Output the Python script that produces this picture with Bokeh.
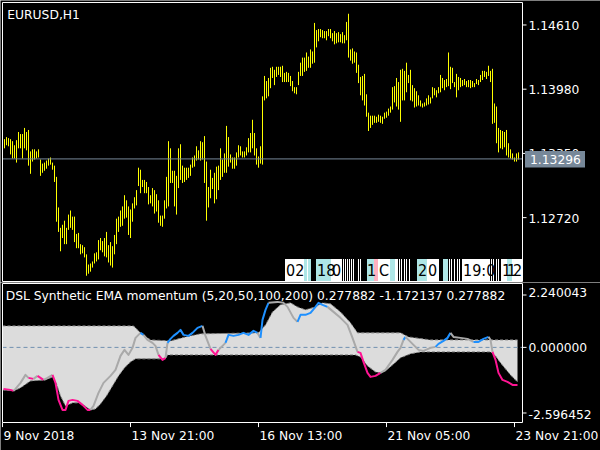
from bokeh.plotting import figure
from bokeh.layouts import column
from bokeh.models import Range1d
from bokeh.embed import file_html
from bokeh.resources import INLINE
from bokeh.core.properties import value

FONT = "DejaVu Sans"
TAG_FONT = "Liberation Sans Narrow, DejaVu Sans Condensed, DejaVu Sans"
FS = "12.3px"
BASE_FIX = -4.5   # moves the alphabetic baseline onto the wanted pixel row

# ---------------- data: EURUSD H1 bars ----------------
symbol = "EURUSD,H1"
high = [1.1349, 1.1351, 1.1350, 1.1349, 1.1347, 1.1343, 1.1348, 1.1356, 1.1354, 1.1354,
        1.1360, 1.1356, 1.1358, 1.1337, 1.1339, 1.1339, 1.1337, 1.1339, 1.1329, 1.1325,
        1.1326, 1.1328, 1.1330, 1.1331, 1.1326, 1.1323, 1.1312, 1.1282, 1.1262, 1.1265,
        1.1269, 1.1262, 1.1275, 1.1279, 1.1273, 1.1273, 1.1256, 1.1257, 1.1246, 1.1245,
        1.1243, 1.1236, 1.1226, 1.1227, 1.1229, 1.1237, 1.1238, 1.1250, 1.1252, 1.1249,
        1.1252, 1.1258, 1.1245, 1.1248, 1.1244, 1.1255, 1.1271, 1.1273, 1.1279, 1.1283,
        1.1294, 1.1289, 1.1283, 1.1280, 1.1286, 1.1292, 1.1299, 1.1321, 1.1319, 1.1309,
        1.1309, 1.1307, 1.1302, 1.1294, 1.1301, 1.1299, 1.1295, 1.1289, 1.1274, 1.1274,
        1.1289, 1.1312, 1.1347, 1.1340, 1.1318, 1.1318, 1.1313, 1.1340, 1.1344, 1.1323,
        1.1321, 1.1321, 1.1321, 1.1324, 1.1331, 1.1333, 1.1342, 1.1338, 1.1347, 1.1346,
        1.1352, 1.1327, 1.1302, 1.1319, 1.1311, 1.1316, 1.1322, 1.1323, 1.1340, 1.1329,
        1.1335, 1.1362, 1.1351, 1.1334, 1.1331, 1.1331, 1.1336, 1.1343, 1.1342, 1.1337,
        1.1337, 1.1341, 1.1350, 1.1355, 1.1368, 1.1355, 1.1340, 1.1332, 1.1342, 1.1391,
        1.1411, 1.1406, 1.1409, 1.1419, 1.1420, 1.1417, 1.1420, 1.1420, 1.1420, 1.1421,
        1.1414, 1.1415, 1.1414, 1.1411, 1.1406, 1.1400, 1.1400, 1.1415, 1.1424, 1.1429,
        1.1429, 1.1434, 1.1430, 1.1437, 1.1435, 1.1463, 1.1456, 1.1457, 1.1457, 1.1456,
        1.1455, 1.1455, 1.1457, 1.1457, 1.1453, 1.1455, 1.1453, 1.1454, 1.1452, 1.1454,
        1.1451, 1.1464, 1.1472, 1.1437, 1.1438, 1.1435, 1.1434, 1.1422, 1.1410, 1.1411,
        1.1413, 1.1393, 1.1375, 1.1372, 1.1372, 1.1372, 1.1371, 1.1373, 1.1372, 1.1371,
        1.1375, 1.1376, 1.1379, 1.1381, 1.1400, 1.1401, 1.1409, 1.1405, 1.1417, 1.1418,
        1.1416, 1.1424, 1.1412, 1.1417, 1.1402, 1.1399, 1.1396, 1.1392, 1.1387, 1.1384,
        1.1385, 1.1389, 1.1392, 1.1390, 1.1400, 1.1399, 1.1397, 1.1400, 1.1412, 1.1409,
        1.1407, 1.1408, 1.1434, 1.1420, 1.1419, 1.1405, 1.1413, 1.1410, 1.1409, 1.1407,
        1.1408, 1.1406, 1.1407, 1.1407, 1.1406, 1.1404, 1.1408, 1.1407, 1.1412, 1.1416,
        1.1416, 1.1415, 1.1421, 1.1416, 1.1418, 1.1384, 1.1381, 1.1360, 1.1358, 1.1357,
        1.1356, 1.1358, 1.1345, 1.1339, 1.1335, 1.1331, 1.1335, 1.1336]
low = [1.1340, 1.1343, 1.1342, 1.1334, 1.1330, 1.1330, 1.1326, 1.1340, 1.1340, 1.1330,
       1.1340, 1.1338, 1.1323, 1.1315, 1.1327, 1.1329, 1.1330, 1.1331, 1.1313, 1.1316,
       1.1318, 1.1320, 1.1323, 1.1324, 1.1319, 1.1307, 1.1268, 1.1258, 1.1239, 1.1252,
       1.1246, 1.1246, 1.1260, 1.1262, 1.1260, 1.1248, 1.1242, 1.1242, 1.1236, 1.1237,
       1.1233, 1.1215, 1.1217, 1.1219, 1.1223, 1.1227, 1.1229, 1.1231, 1.1240, 1.1238,
       1.1234, 1.1233, 1.1228, 1.1225, 1.1223, 1.1236, 1.1246, 1.1258, 1.1263, 1.1264,
       1.1271, 1.1272, 1.1255, 1.1252, 1.1268, 1.1281, 1.1284, 1.1303, 1.1296, 1.1302,
       1.1296, 1.1296, 1.1285, 1.1286, 1.1283, 1.1276, 1.1278, 1.1267, 1.1264, 1.1263,
       1.1271, 1.1281, 1.1283, 1.1306, 1.1306, 1.1283, 1.1275, 1.1301, 1.1309, 1.1306,
       1.1307, 1.1309, 1.1311, 1.1313, 1.1321, 1.1322, 1.1328, 1.1329, 1.1328, 1.1329,
       1.1306, 1.1269, 1.1282, 1.1291, 1.1300, 1.1286, 1.1290, 1.1299, 1.1309, 1.1312,
       1.1316, 1.1316, 1.1322, 1.1326, 1.1320, 1.1320, 1.1323, 1.1331, 1.1333, 1.1331,
       1.1331, 1.1333, 1.1336, 1.1336, 1.1340, 1.1333, 1.1324, 1.1321, 1.1325, 1.1324,
       1.1387, 1.1389, 1.1391, 1.1399, 1.1409, 1.1402, 1.1410, 1.1412, 1.1410, 1.1405,
       1.1405, 1.1405, 1.1405, 1.1401, 1.1396, 1.1394, 1.1393, 1.1402, 1.1411, 1.1411,
       1.1415, 1.1416, 1.1419, 1.1419, 1.1423, 1.1424, 1.1439, 1.1445, 1.1449, 1.1448,
       1.1448, 1.1446, 1.1450, 1.1448, 1.1445, 1.1442, 1.1443, 1.1444, 1.1444, 1.1443,
       1.1443, 1.1446, 1.1429, 1.1426, 1.1423, 1.1424, 1.1414, 1.1404, 1.1392, 1.1387,
       1.1382, 1.1371, 1.1357, 1.1360, 1.1363, 1.1365, 1.1365, 1.1366, 1.1365, 1.1364,
       1.1369, 1.1370, 1.1372, 1.1375, 1.1378, 1.1385, 1.1381, 1.1378, 1.1366, 1.1387,
       1.1387, 1.1395, 1.1404, 1.1387, 1.1386, 1.1380, 1.1381, 1.1382, 1.1381, 1.1380,
       1.1381, 1.1382, 1.1383, 1.1384, 1.1389, 1.1392, 1.1390, 1.1394, 1.1395, 1.1399,
       1.1397, 1.1400, 1.1401, 1.1398, 1.1404, 1.1400, 1.1390, 1.1397, 1.1400, 1.1401,
       1.1402, 1.1400, 1.1400, 1.1399, 1.1400, 1.1400, 1.1403, 1.1402, 1.1405, 1.1407,
       1.1410, 1.1408, 1.1411, 1.1405, 1.1364, 1.1365, 1.1345, 1.1336, 1.1340, 1.1339,
       1.1341, 1.1333, 1.1331, 1.1330, 1.1329, 1.1327, 1.1327, 1.1329]
bid = 1.13296
price_ticks = [1.14610, 1.13980, 1.13350, 1.12720]

time_ticks = [-1.0, 63, 127, 191, 255]
time_labels = ["9 Nov 2018", "13 Nov 21:00", "16 Nov 13:00", "21 Nov 05:00", "23 Nov 21:00"]

# ---------------- data: indicator window ----------------
ind_title = "DSL Synthetic EMA momentum (5,20,50,100,200) 0.277882 -1.172137 0.277882"
ind_min, ind_max = -2.596452, 2.240043
ind_tick_labels = ["2.240043", "0.000000", "-2.596452"]
ind_tick_pos = [1.8225, 0.0, -2.283]       # MT4 draws the min/max labels inset

ind_x = [-0.5, 3.0, 4.5, 5.5, 8.0, 10.5, 12.0, 14.5, 16.5, 19.5,
         21.5, 24.0, 25.5, 27.0, 29.0, 30.5, 32.0, 34.0, 36.5, 39.0,
         41.5, 43.0, 44.5, 47.0, 49.5, 53.0, 55.5, 58.0, 60.0, 62.0,
         64.0, 65.5, 68.0, 69.5, 71.5, 74.0, 75.5, 77.0, 79.0, 80.5,
         81.5, 83.0, 84.5, 86.5, 88.0, 89.5, 92.0, 94.0, 96.5, 99.0,
         100.5, 103.0, 105.5, 107.0, 109.0, 110.5, 112.0, 114.5, 117.0, 119.5,
         122.0, 124.5, 126.5, 128.0, 129.0, 130.5, 132.0, 136.5, 139.5, 141.5,
         144.5, 146.5, 148.0, 150.5, 153.0, 155.5, 157.0, 159.0, 161.5, 164.5,
         168.0, 171.5, 174.0, 176.5, 178.0, 179.5, 181.5, 183.0, 185.5, 188.0,
         190.5, 194.0, 196.5, 198.0, 199.5, 200.5, 202.0, 204.5, 207.0, 209.5,
         213.0, 215.5, 217.0, 219.5, 221.5, 223.0, 224.5, 228.0, 231.5, 234.5,
         237.0, 239.5, 242.0, 243.0, 244.0, 245.5, 247.0, 249.0, 251.5, 254.0,
         256.5]
ind_v = [-1.444, -1.479, -1.514, -1.444, -1.235, -0.957, -1.061, -1.096, -0.992, -1.131,
         -1.061, -0.957, -1.235, -1.827, -2.175, -2.175, -1.862, -1.827, -1.862, -2.001,
         -2.175, -2.175, -2.036, -1.583, -1.235, -0.992, -0.783, -0.296, -0.087, -0.261,
         -0.017, 0.331, 0.505, 0.435, 0.261, 0.157, 0.052, -0.261, -0.435, -0.365,
         0.157, 0.296, 0.400, 0.505, 0.609, 0.435, 0.400, 0.505, 0.679, 0.748,
         0.400, -0.052, -0.261, -0.087, 0.052, 0.157, 0.435, 0.400, 0.435, 0.505,
         0.435, 0.574, 0.505, 0.331, 0.957, 1.305, 1.549, 1.583, 1.549, 1.409,
         1.027, 0.887, 1.131, 1.131, 1.201, 1.409, 1.549, 1.479, 1.409, 1.235,
         1.027, 0.783, 0.331, -0.157, -0.191, -0.505, -0.887, -1.027, -0.992, -0.887,
         -0.783, -0.435, -0.157, -0.017, 0.261, 0.365, 0.261, 0.087, -0.087, -0.122,
         -0.017, 0.017, 0.122, 0.226, 0.331, 0.505, 0.365, 0.331, 0.296, 0.191,
         0.191, 0.296, 0.365, 0.261, -0.157, -0.435, -0.887, -1.131, -1.201, -1.305,
         -1.305]
# state of the segment starting at each point: n neutral, u above upper level, d below lower level
ind_state = list("ddnnnndndn" "nddddddddd" "dnnnnnnnnn" "nnunnnnddn" "uuuuuuuuun"
                 "nddnnuuuuu" "uunuuunnnn" "nuuuuuuunn" "nnnddddddn" "nnnnunnnnn"
                 "nuuuunnnnu" "uunndddddd" "d")

up_x = [-1, 64.5, 68, 73, 83, 90.5, 98, 127, 130.5, 134, 138, 143, 146.5, 150.5, 155.5, 159,
        163, 168, 173, 176.5, 198, 202, 213, 256.5]
up_v = [0.748, 0.748, 0.505, 0.261, 0.226, 0.365, 0.470, 0.505, 0.783, 1.235, 1.479, 1.549,
        1.409, 1.305, 1.409, 1.549, 1.514, 1.235, 0.853, 0.505, 0.505, 0.365, 0.261, 0.261]
dn_x = [-1, 4.5, 8, 13, 20.5, 24, 26, 28, 30.5, 34, 38, 43, 45.5, 48, 51, 54, 57, 60, 63,
        65.5, 80.5, 81.5, 175.5, 178, 181.5, 185.5, 188, 190.5, 194, 198, 203, 208, 243,
        245.5, 248, 250.5, 253, 256.5]
dn_v = [-1.479, -1.514, -1.409, -1.166, -1.131, -1.027, -1.270, -1.688, -2.036, -1.931,
        -1.931, -2.175, -2.140, -1.966, -1.688, -1.340, -0.992, -0.713, -0.505, -0.400,
        -0.400, -0.261, -0.261, -0.331, -0.644, -0.853, -0.887, -0.818, -0.609, -0.365,
        -0.226, -0.157, -0.157, -0.296, -0.539, -0.748, -0.957, -1.201]

# ---------------- data: overlapping time tags at the bottom of the price window ----------------
tag_left = [140.25, 148.75, 149.75, 151.25, 151.75, 155.75, 163.25,
            169.25, 170.25, 171.25, 172.25, 173.25, 174.25, 176.75, 177.75,
            181.25, 184.75, 186.75, 192.75, 195.25,
            197.25, 198.25, 199.75, 200.75, 202.25,
            206.25, 211.25, 219.25,
            222.25, 223.25, 224.75, 226.25, 227.25,
            228.75, 243.25, 244.25, 245.75, 246.75,
            248.25, 251.25, 253.75]
tag_right = [148.75, 149.75, 151.25, 151.75, 153.25, 163.25, 168.75,
             169.75, 170.75, 171.75, 172.75, 173.75, 174.75, 177.25, 178.25,
             184.75, 186.75, 192.75, 195.25, 196.75,
             197.75, 198.75, 200.25, 201.25, 202.75,
             211.25, 217.25, 221.75,
             222.75, 223.75, 225.25, 226.75, 227.75,
             242.75, 243.75, 244.75, 246.25, 247.25,
             251.25, 253.75, 258.75]
tag_kind = list("wwcwccw" "wwwwwwww" "cpwcw" "wwwww" "cwc" "wwwww" "wwwww" "wcw")
tag_text = ["02", "18", "0", "1", "C", "2", "0", "19:0", "1", "1", "2"]
tag_text_x = [140.75, 156.25, 163.75, 181.25, 187.25, 206.75, 211.75, 229.25, 248.75,
              251.25, 254.25]

# ---------------- window geometry (MT4 look) ----------------
BG, FG = "black", "white"
XR = (-2.0, 298.0)                   # 2 px per bar over the whole 600 px window
PR = (1.120837, 1.148501)            # price window rows 0..282
IR = (-3.588120, 2.257441)           # indicator window rows 282..450
PANE_L, PANE_R = -1.0, 259.0         # window border columns
P_TOP, P_BOT = 1.148305, 1.120935
I_TOP, I_BOT = 2.222646, -2.613860
TAG_TOP, TAG_BOT, TAG_BASE = 1.123142, 1.120984, 1.121573
AXIS_TXT_X = 262.0
TICK_LEN = 2.0


def base(h, yr):
    f = figure(frame_width=600, frame_height=h, x_range=Range1d(*XR), y_range=Range1d(*yr),
               x_axis_location=None, y_axis_location=None, toolbar_location=None,
               output_backend="svg", background_fill_color=BG, border_fill_color=BG,
               outline_line_color=None, min_border=0)
    f.grid.visible = False
    return f


def txt(f, x, y, text, color=FG, size=FS, dy=0.0, dx=0.0, font=FONT):
    if isinstance(dy, list):
        yoff = [d + BASE_FIX for d in dy]
    else:
        yoff = dy + BASE_FIX
    f.text(x=x, y=y, text=text, text_color=color, text_font=value(font), text_font_size=size,
           text_baseline="alphabetic", text_align="left", x_offset=dx, y_offset=yoff)


# ---------------- price window ----------------
p1 = base(282, PR)
n = len(high)
idx = list(range(n))
p1.segment(x0=idx, y0=low, x1=idx, y1=high, line_color="#ffff00", line_width=1)
p1.segment(x0=[PANE_L], y0=[bid], x1=[PANE_R], y1=[bid], line_color="#778899", line_width=1)

tag_colors = {"w": "#ffffff", "c": "#aee6e6", "p": "#ffb0c0"}
p1.quad(left=tag_left, right=tag_right, top=[TAG_TOP] * len(tag_left),
        bottom=[TAG_BOT] * len(tag_left), fill_color=[tag_colors[k] for k in tag_kind],
        line_color=None)
txt(p1, tag_text_x, [TAG_BASE] * len(tag_text), tag_text, color="black", size="16px",
    font=TAG_FONT)

p1.quad(left=[PANE_L], right=[PANE_R], top=[P_TOP], bottom=[P_BOT], fill_color=None,
        line_color=FG, line_width=1)
# right price scale
p1.segment(x0=[PANE_R] * len(price_ticks), y0=price_ticks,
           x1=[PANE_R + TICK_LEN] * len(price_ticks), y1=price_ticks, line_color=FG)
txt(p1, [AXIS_TXT_X] * len(price_ticks), price_ticks, ["%.5f" % t for t in price_ticks], dy=5)
# current bid label
p1.quad(left=[260.25], right=[290.25], top=[1.133737], bottom=[1.132118],
        fill_color="#778899", line_color=None)
txt(p1, [262.75], [bid], ["%.5f" % bid], dy=5)
txt(p1, [1.4], [1.146686], [symbol])

# ---------------- indicator window ----------------
p2 = base(168, IR)
p2.patch(x=up_x + dn_x[::-1], y=up_v + dn_v[::-1], fill_color="#dcdcdc", line_color=None)
p2.line(up_x, up_v, line_color="#808080", line_dash="3 2", line_width=1)
p2.line(dn_x, dn_v, line_color="#808080", line_dash="3 2", line_width=1)
p2.segment(x0=[PANE_L], y0=[0.0], x1=[PANE_R], y1=[0.0], line_color="#7090b0",
           line_dash="4 3", line_width=1)

state_color = {"n": "#a9a9a9", "u": "#1e90ff", "d": "#ff1493"}
runs_x, runs_y, runs_c = [], [], []
cx, cy, cs = [ind_x[0]], [ind_v[0]], ind_state[0]
for j in range(1, len(ind_x)):
    cx.append(ind_x[j])
    cy.append(ind_v[j])
    s = ind_state[j]
    if s != cs or j == len(ind_x) - 1:
        runs_x.append(cx)
        runs_y.append(cy)
        runs_c.append(state_color[cs])
        cx, cy, cs = [ind_x[j]], [ind_v[j]], s
p2.multi_line(xs=runs_x, ys=runs_y, line_color=runs_c, line_width=2, line_join="round")

p2.quad(left=[PANE_L], right=[PANE_R], top=[I_TOP], bottom=[I_BOT], fill_color=None,
        line_color=FG, line_width=1)
# right scale of the indicator window
p2.segment(x0=[PANE_R] * 3, y0=ind_tick_pos, x1=[PANE_R + TICK_LEN] * 3, y1=ind_tick_pos,
           line_color=FG)
txt(p2, [AXIS_TXT_X] * 3, ind_tick_pos, ind_tick_labels, dy=[2, 5, 6])
# time scale
p2.segment(x0=time_ticks, y0=[I_BOT] * len(time_ticks), x1=time_ticks,
           y1=[I_BOT - 0.16] * len(time_ticks), line_color=FG)
txt(p2, time_ticks, [ind_min] * len(time_ticks), time_labels, dx=1, dy=19)
txt(p2, [0.6], [1.624], [ind_title])

layout = column(p1, p2, spacing=0)
open("out.html", "w").write(file_html(layout, INLINE))
